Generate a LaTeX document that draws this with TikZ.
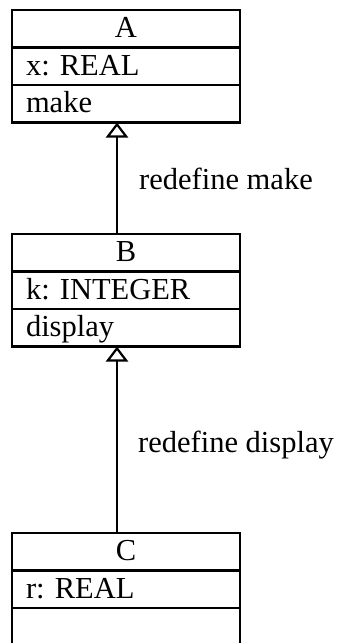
\documentclass[tikz,border=0pt]{standalone}
\usepackage{fontspec}
\setmainfont{Liberation Serif}
\usetikzlibrary{arrows.meta,calc}
\frenchspacing
\begin{document}
\begin{tikzpicture}[x=1pt,y=-1pt,
  row/.style={draw, line width=2.2pt, minimum width=228pt, minimum height=37.5pt,
    inner ysep=0pt, inner xsep=14pt, outer sep=0pt, text width=200pt, align=left,
    text height=22pt, text depth=4.5pt, anchor=north west,
    font=\fontsize{30.5}{34}\selectfont},
  titlerow/.style={row, align=center},
  inh/.style={line width=2.2pt, -{Triangle[open, length=15pt, width=22pt, line width=2.2pt]}},
  lbl/.style={anchor=base west, inner sep=0pt, font=\fontsize{30.5}{34}\selectfont}]
\useasboundingbox (0,0) rectangle (343,643);
% class A
\node[titlerow] (A1) at (12,10) {A};
\node[row] (A2) at (A1.south west) {x: REAL};
\node[row] (A3) at (A2.south west) {make};
% class B
\node[titlerow] (B1) at (12,234) {B};
\node[row] (B2) at (B1.south west) {k: INTEGER};
\node[row] (B3) at (B2.south west) {display};
% class C
\node[titlerow] (C1) at (12,533) {C};
\node[row] (C2) at (C1.south west) {r: REAL};
\node[row] (C3) at (C2.south west) {};
% connectors
\draw[inh] ($(B1.north west)+(105,0)$) -- ($(A3.south west)+(105,0)$);
\draw[inh] ($(C1.north west)+(105,0)$) -- ($(B3.south west)+(105,0)$);
% labels
\node[lbl] (L1) at (139,189) {redefine make};
\node[lbl] (L2) at (138,452) {redefine display};
\end{tikzpicture}
\end{document}
